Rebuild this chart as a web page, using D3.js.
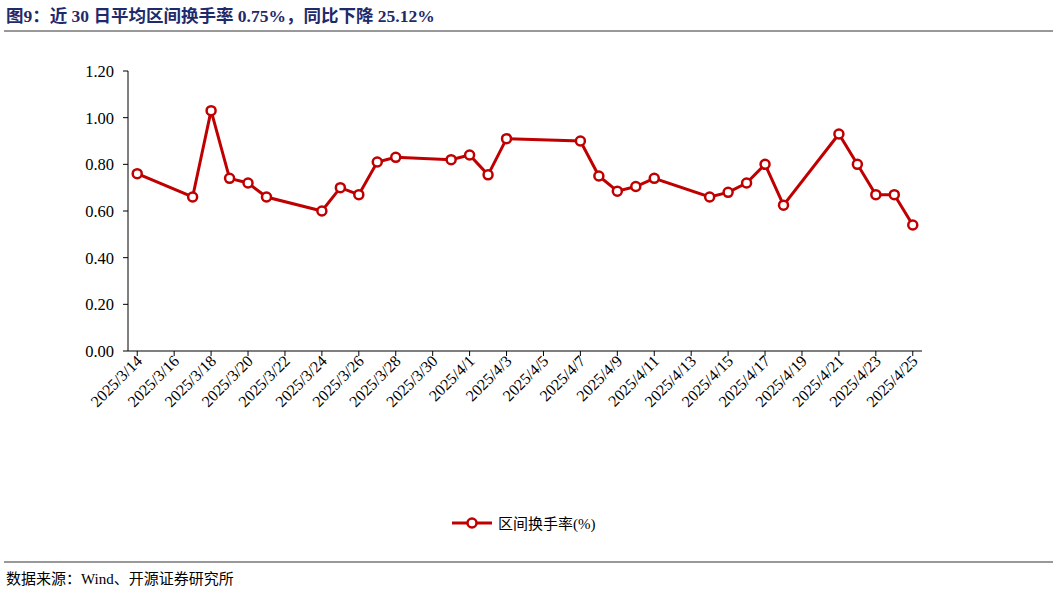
<!DOCTYPE html><html><head><meta charset="utf-8">
<script src="https://cdn.jsdelivr.net/npm/d3@7"></script>
<style>body{margin:0;background:#fff}</style></head><body>
<svg id="c" width="1057" height="592"></svg>
<script>
const dates=["2025/3/14","2025/3/17","2025/3/18","2025/3/19","2025/3/20","2025/3/21","2025/3/24","2025/3/25","2025/3/26","2025/3/27","2025/3/28","2025/3/31","2025/4/1","2025/4/2","2025/4/3","2025/4/7","2025/4/8","2025/4/9","2025/4/10","2025/4/11","2025/4/14","2025/4/15","2025/4/16","2025/4/17","2025/4/18","2025/4/21","2025/4/22","2025/4/23","2025/4/24","2025/4/25"];
const values=[0.76,0.66,1.03,0.74,0.72,0.66,0.60,0.70,0.67,0.81,0.83,0.82,0.84,0.755,0.91,0.90,0.75,0.685,0.705,0.74,0.66,0.68,0.72,0.80,0.625,0.93,0.80,0.67,0.67,0.54];
const yTicks=[0,0.2,0.4,0.6,0.8,1.0,1.2];
const seriesName="区间换手率(%)";
const svg=d3.select("#c");
const font="'Times New Roman','Liberation Serif',serif";
const cjk="'Noto Sans CJK SC',sans-serif";
svg.append("text").attr("x",6).attr("y",22).attr("fill","#1f2a6b").attr("font-weight","bold").attr("font-size",17.5).attr("font-family",font+","+cjk).text("图9：近 30 日平均区间换手率 0.75%，同比下降 25.12%");
svg.append("line").attr("x1",4).attr("x2",1053).attr("y1",31).attr("y2",31).attr("stroke","#333");
svg.append("line").attr("x1",4).attr("x2",1053).attr("y1",562).attr("y2",562).attr("stroke","#333");
svg.append("text").attr("x",6).attr("y",584).attr("font-size",15).attr("font-family",font+","+cjk).text("数据来源：Wind、开源证券研究所");
const parse=d3.timeParse("%Y/%m/%d");
const t0=parse("2025/3/14"), t1=d3.timeDay.offset(parse("2025/4/25"),1);
const x=d3.scaleTime().domain([t0,t1]).range([128,922]);
const y=d3.scaleLinear().domain([0,1.2]).range([351,71]);
const cx=d=>x(d3.timeHour.offset(parse(d),12));
const g=svg.append("g").attr("font-family",font);
g.append("line").attr("x1",128).attr("x2",128).attr("y1",71).attr("y2",351).attr("stroke","#000");
yTicks.forEach(v=>{
 g.append("line").attr("x1",123).attr("x2",128).attr("y1",y(v)).attr("y2",y(v)).attr("stroke","#000");
 g.append("text").attr("x",114).attr("y",y(v)+6).attr("text-anchor","end").attr("font-size",16.5).text(v.toFixed(2));
});
g.append("line").attr("x1",128).attr("x2",922).attr("y1",351).attr("y2",351).attr("stroke","#000");
const days=d3.timeDay.range(t0,t1);
days.forEach((d,i)=>{
 if(i%2) return;
 const xx=x(d3.timeHour.offset(d,12));
 g.append("line").attr("x1",xx).attr("x2",xx).attr("y1",351).attr("y2",356).attr("stroke","#000");
 g.append("text").attr("transform",`translate(${xx+6},${362}) rotate(-45)`).attr("text-anchor","end").attr("font-size",16).text(d3.timeFormat("%Y/%-m/%-d")(d));
});
const line=d3.line().x((d,i)=>cx(dates[i])).y(d=>y(d));
g.append("path").datum(values).attr("d",line).attr("fill","none").attr("stroke","#c00000").attr("stroke-width",3);
g.selectAll("circle").data(values).join("circle").attr("cx",(d,i)=>cx(dates[i])).attr("cy",d=>y(d)).attr("r",4.5).attr("fill","#fff").attr("stroke","#c00000").attr("stroke-width",2.5);
const lg=svg.append("g");
lg.append("line").attr("x1",452).attr("x2",492).attr("y1",523).attr("y2",523).attr("stroke","#c00000").attr("stroke-width",3);
lg.append("circle").attr("cx",472).attr("cy",523).attr("r",4.5).attr("fill","#fff").attr("stroke","#c00000").attr("stroke-width",2.5);
lg.append("text").attr("x",498).attr("y",529).attr("font-size",15).attr("font-family",font+","+cjk).text(seriesName);
</script></body></html>
